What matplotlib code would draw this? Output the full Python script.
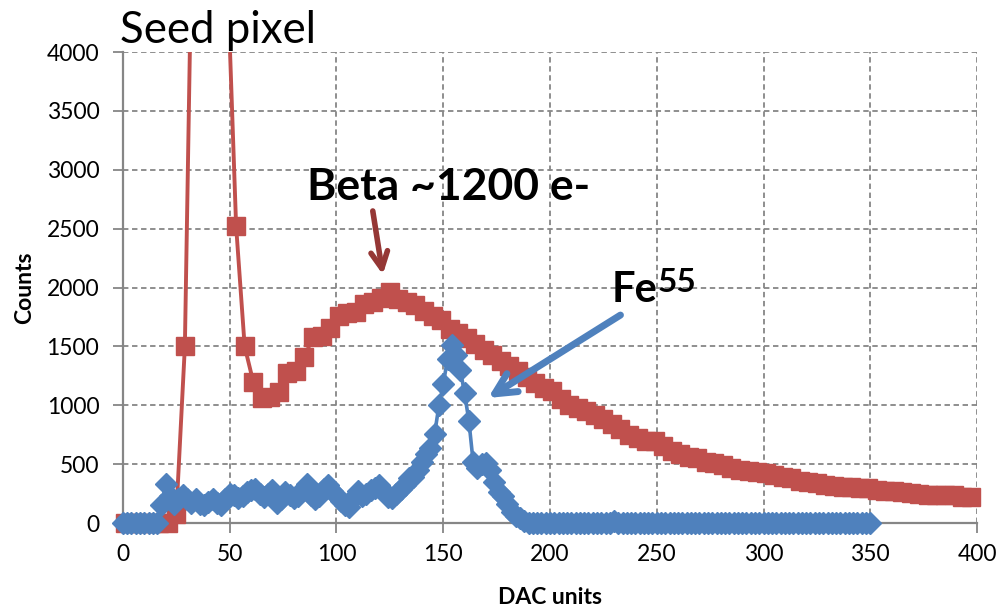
import numpy as np
import matplotlib
matplotlib.use("agg")
import matplotlib.pyplot as plt

plt.rcParams["font.family"] = ["Lato", "DejaVu Sans"]

# Beta source, seed pixel (DAC step 4)
beta_dac = np.arange(1, 398, 4)
beta_counts = [0, 0, 0, 0, 0, 0, 80, 1500, 5800, 9000,
               10000, 8000, 4600, 2520, 1500, 1200, 1060, 1070, 1110, 1270,
               1290, 1410, 1580, 1590, 1660, 1760, 1780, 1790, 1860, 1880,
               1910, 1960, 1900, 1880, 1850, 1800, 1760, 1720, 1650, 1610,
               1570, 1520, 1470, 1430, 1380, 1330, 1290, 1240, 1190, 1150,
               1120, 1050, 1000, 980, 950, 920, 880, 840, 800, 750,
               720, 700, 700, 650, 610, 590, 560, 550, 520, 510,
               490, 470, 450, 440, 430, 425, 410, 390, 380, 360,
               350, 340, 325, 315, 305, 305, 300, 295, 280, 270,
               275, 260, 255, 245, 240, 240, 238, 235, 225, 220]

# Fe55 source, seed pixel (DAC step 2)
fe_dac = np.arange(0, 351, 2)
fe_counts = [0, 0, 0, 0, 0, 0, 0, 0, 0, 150,
             330, 230, 160, 200, 240, 200, 170, 200, 160, 150,
             180, 200, 170, 150, 200, 250, 240, 210, 230, 260,
             280, 290, 250, 220, 250, 280, 170, 200, 260, 240,
             210, 230, 280, 330, 240, 200, 230, 290, 320, 270,
             240, 190, 150, 140, 220, 270, 230, 250, 280, 300,
             320, 280, 220, 210, 250, 290, 320, 380, 390, 450,
             520, 590, 640, 760, 1000, 1180, 1390, 1510, 1430, 1300,
             1100, 870, 520, 470, 500, 510, 450, 350, 260, 230,
             160, 95, 60, 40, 15, 0, 0, 0, 0, 0,
             0, 0, 0, 0, 0, 0, 0, 0, 0, 0,
             0, 0, 0, 0, 0, 15, 0, 0, 0, 0,
             0, 0, 0, 0, 0, 0, 0, 0, 0, 0,
             0, 0, 0, 0, 0, 0, 0, 0, 0, 0,
             0, 0, 0, 0, 0, 0, 0, 0, 0, 0,
             0, 0, 0, 0, 0, 0, 0, 0, 0, 0,
             0, 0, 0, 0, 0, 0, 0, 0, 0, 0,
             0, 0, 0, 0, 0, 0]

x_ticks = np.arange(0, 401, 50)
y_ticks = np.arange(0, 4001, 500)

RED = "#C0504D"
BLUE = "#4F81BD"
GRID = "#868686"

fig = plt.figure(figsize=(9.98, 6.09), dpi=100)
ax = fig.add_axes([0.1232, 0.1412, 0.8558, 0.7734])

beta_counts = np.array(beta_counts, dtype=float)
fe_counts = np.array(fe_counts, dtype=float)

# lines are clipped to the plot area, markers are not
ax.plot(beta_dac, beta_counts, color=RED, lw=2.8, zorder=3)
inside = beta_counts <= 4000
ax.plot(beta_dac[inside], beta_counts[inside], ls="none", marker="s", ms=13,
        color=RED, mec=RED, clip_on=False, zorder=3)
ax.plot(fe_dac, fe_counts, color=BLUE, lw=2.6, zorder=4)
ax.plot(fe_dac, fe_counts, ls="none", marker="D", ms=11.5, color=BLUE,
        mec=BLUE, clip_on=False, zorder=4)

ax.set_xlim(0, 400)
ax.set_ylim(0, 4000)
ax.set_xticks(x_ticks)
ax.set_yticks(y_ticks)
ax.grid(True, color=GRID, ls=(0, (3, 2)), lw=1.3, zorder=1)
for s in ["top", "right"]:
    ax.spines[s].set_visible(False)
for s in ["left", "bottom"]:
    ax.spines[s].set_color(GRID)
    ax.spines[s].set_linewidth(1.6)
ax.tick_params(direction="out", length=7, width=1.3, color=GRID,
               labelsize=16.5)
ax.tick_params(axis="y", pad=10)
ax.tick_params(axis="x", pad=8)

ax.set_xlabel("DAC units", fontsize=16.5, fontweight="bold", labelpad=16)
ax.set_ylabel("Counts", fontsize=16.5, fontweight="bold", labelpad=8)

fig.text(0.12, 0.93, "Seed pixel", fontsize=31.5, ha="left", va="baseline")

ax.annotate("", xy=(121.7, 2110), xytext=(117, 2650),
            arrowprops=dict(arrowstyle="->", lw=4, color="#953735",
                            mutation_scale=30, shrinkA=0, shrinkB=0))
ax.text(152.5, 2850, "Beta ~1200 e-", fontsize=32, fontweight="bold",
        ha="center", va="center")

ax.annotate("", xy=(171, 1062), xytext=(233, 1766),
            arrowprops=dict(arrowstyle="->", lw=5, color=BLUE,
                            mutation_scale=38, shrinkA=0, shrinkB=0))
ax.text(229, 1877, "Fe", fontsize=30, fontweight="bold",
        ha="left", va="baseline")
ax.text(250.5, 2165, "55", fontsize=24, fontweight="bold",
        ha="left", va="top")

fig.savefig("out.png", dpi=100)
